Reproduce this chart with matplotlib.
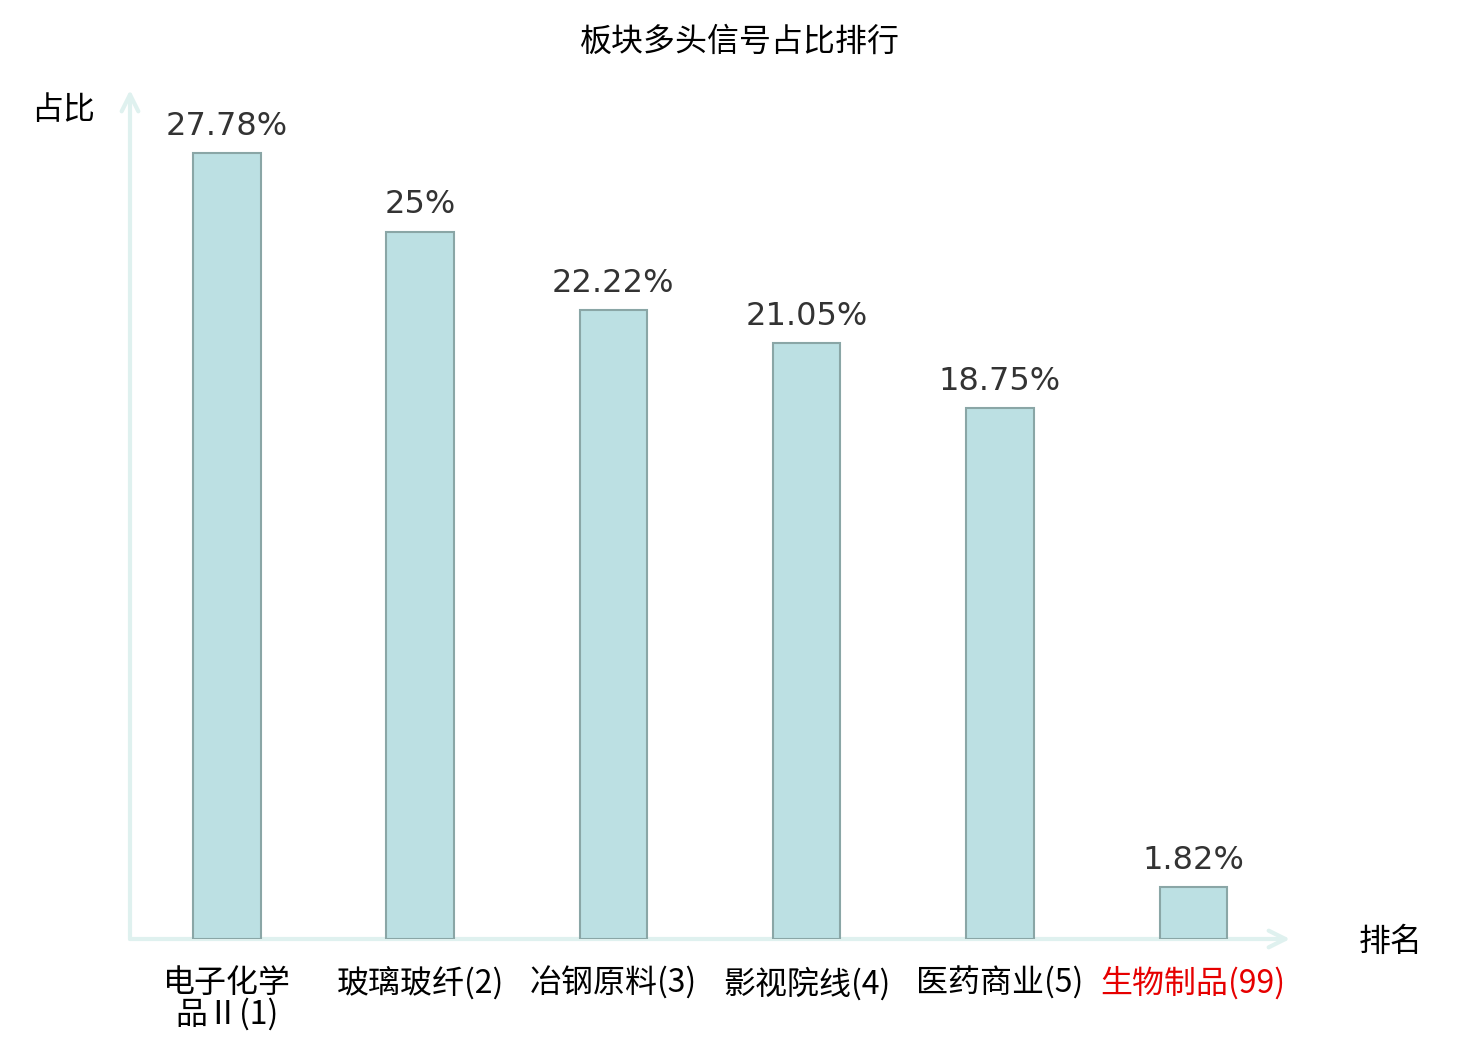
import matplotlib
matplotlib.use("Agg")
import matplotlib.pyplot as plt

plt.rcParams['font.family'] = ['Noto Sans CJK SC', 'DejaVu Sans']

title = "板块多头信号占比排行"
categories = ["电子化学\n品Ⅱ(1)", "玻璃玻纤(2)", "冶钢原料(3)", "影视院线(4)", "医药商业(5)", "生物制品(99)"]
values = [27.78, 25.0, 22.22, 21.05, 18.75, 1.82]
value_labels = ["27.78%", "25%", "22.22%", "21.05%", "18.75%", "1.82%"]
label_colors = ["#000000", "#000000", "#000000", "#000000", "#000000", "#e60000"]

fig = plt.figure(figsize=(14.8, 10.4), dpi=100)
ax = fig.add_axes([130/1480, 1-939/1040, (1290-130)/1480, (939-90)/1040])

x = list(range(len(categories)))
ax.bar(x, values, width=0.35, color="#bce0e3", edgecolor="#8aa6a6", linewidth=1.5, zorder=3)

for xi, v, lab in zip(x, values, value_labels):
    ax.annotate(lab, (xi, v), xytext=(0, 8), textcoords="offset points",
                ha="center", va="bottom", fontsize=23, color="#333333",
                family=["DejaVu Sans"])

ax.set_xlim(-0.5, len(categories) - 0.5)
ax.set_ylim(0, 30)
for s in ax.spines.values():
    s.set_visible(False)
ax.set_yticks([])
ax.set_xticks(x)
ax.set_xticklabels(categories, fontsize=23, linespacing=0.95)
ax.tick_params(axis="x", length=0, pad=20)
for t, c in zip(ax.get_xticklabels(), label_colors):
    t.set_color(c)

axis_color = "#dff1ef"
ax.annotate("", xy=(1, 0), xytext=(0, 0), xycoords="axes fraction",
            arrowprops=dict(arrowstyle="->", color=axis_color, lw=3,
                            mutation_scale=30, shrinkA=0, shrinkB=0), zorder=1)
ax.annotate("", xy=(0, 1), xytext=(0, 0), xycoords="axes fraction",
            arrowprops=dict(arrowstyle="->", color=axis_color, lw=3,
                            mutation_scale=30, shrinkA=0, shrinkB=0), zorder=1)

fig.text(740/1480, 1-42/1040, title, ha="center", va="center", fontsize=23, color="#000000")
fig.text(63/1480, 1-110/1040, "占比", ha="center", va="center", fontsize=23, color="#000000")
fig.text(1391/1480, 1-942/1040, "排名", ha="center", va="center", fontsize=23, color="#000000")

fig.savefig("out.png", dpi=100)
